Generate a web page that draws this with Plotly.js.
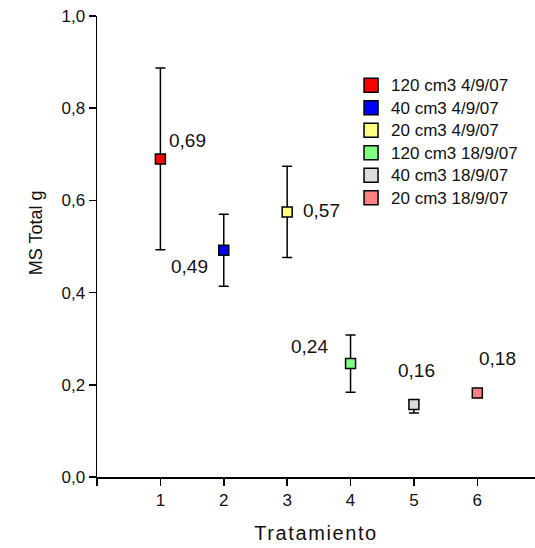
<!DOCTYPE html>
<html>
<head>
<meta charset="utf-8">
<script src="https://cdn.plot.ly/plotly-3.0.1.min.js"></script>
<style>
  html, body { margin: 0; padding: 0; background: #fff; }
  #chart { width: 535px; height: 548px; }
  .legend .legendtext { font-size: 17px !important; }
  .legend .scrollbox { clip-path: none !important; }
  .xtitle { letter-spacing: 1.6px; }
</style>
</head>
<body>
<div id="chart"></div>
<script>
// ---- data ----
var treatments = [1, 2, 3, 4, 5, 6];
var seriesNames = ["120 cm3 4/9/07", "40 cm3 4/9/07", "20 cm3 4/9/07",
                   "120 cm3 18/9/07", "40 cm3 18/9/07", "20 cm3 18/9/07"];
var meanValues = [0.69, 0.492, 0.575, 0.246, 0.157, 0.182];
var errorPlus = [0.197, 0.078, 0.099, 0.062, 0.008, 0.0];
var errorMinus = [0.197, 0.078, 0.099, 0.062, 0.018, 0.0];
var valueLabels = ["0,69", "0,49", "0,57", "0,24", "0,16", "0,18"];
var seriesColors = ["#ff0000", "#0000ff", "#ffff80", "#80ff80", "#dcdcdc", "#ff8080"];
var xTickVals = [0, 1, 2, 3, 4, 5, 6];
var xTickText = ["", "1", "2", "3", "4", "5", "6"];
var yTickVals = [0, 0.2, 0.4, 0.6, 0.8, 1.0];
var xTitle = "Tratamiento";
var yTitle = "MS Total g";
// label offsets (px) relative to each point
var labelDX = [27, -34, 34, -41, 3, 20];
var labelDY = [-18, 16, -1, -17, -34, -35];

var FONT = "Liberation Sans, Arial, sans-serif";
var traces = [];
for (var i = 0; i < treatments.length; i++) {
  traces.push({
    type: "scatter", mode: "markers",
    x: [treatments[i]], y: [meanValues[i]],
    error_y: { type: "data", symmetric: false,
               array: [errorPlus[i]], arrayminus: [errorMinus[i]],
               visible: errorMinus[i] > 0,
               color: "#000", thickness: 1.5, width: 5 },
    marker: { symbol: "square", size: 10, color: seriesColors[i],
              line: { color: "#000", width: 1.5 } },
    showlegend: false, hoverinfo: "skip", cliponaxis: false
  });
}
// legend entries
for (var j = 0; j < seriesNames.length; j++) {
  traces.push({
    type: "scatter", mode: "markers", x: [null], y: [null],
    name: seriesNames[j],
    marker: { symbol: "square", size: 14, color: seriesColors[j],
              line: { color: "#000", width: 1.5 } },
    showlegend: true, hoverinfo: "skip"
  });
}

var annotations = [];
for (var k = 0; k < treatments.length; k++) {
  annotations.push({
    x: treatments[k], y: meanValues[k], xref: "x", yref: "y",
    text: valueLabels[k], showarrow: false,
    xshift: labelDX[k], yshift: -labelDY[k],
    font: { family: FONT, size: 19, color: "#111" }
  });
}
annotations.push({
  x: -0.139, y: 0.529, xref: "paper", yref: "paper",
  text: yTitle, textangle: -90, showarrow: false,
  xanchor: "center", yanchor: "middle",
  font: { family: FONT, size: 18, color: "#111" }
});

var layout = {
  width: 535, height: 548,
  margin: { l: 97, r: 0, t: 16, b: 71 },
  paper_bgcolor: "#fff", plot_bgcolor: "#fff",
  separators: ",.",
  showlegend: true,
  legend: {
    x: 0.58, y: 0.885, xanchor: "left", yanchor: "top",
    bgcolor: "rgba(0,0,0,0)", borderwidth: 0,
    font: { family: FONT, size: 15, color: "#111" },
    itemclick: false, itemdoubleclick: false
  },
  xaxis: {
    range: [0, 6.91], showgrid: false, zeroline: false,
    showline: true, linecolor: "#000", linewidth: 1.5,
    ticks: "outside", ticklen: 7, tickwidth: 1.5, tickcolor: "#000",
    tickmode: "array", tickvals: xTickVals, ticktext: xTickText,
    tickfont: { family: FONT, size: 17, color: "#111" },
    title: { text: xTitle, font: { family: FONT, size: 20, color: "#111" }, standoff: 17 },
    fixedrange: true
  },
  yaxis: {
    range: [0, 1.0], showgrid: false, zeroline: false,
    showline: true, linecolor: "#000", linewidth: 1.5,
    ticks: "outside", ticklen: 7, tickwidth: 1.5, tickcolor: "#000",
    tickmode: "array", tickvals: yTickVals, tickformat: ".1f",
    tickfont: { family: FONT, size: 17, color: "#111" },
    fixedrange: true
  },
  annotations: annotations
};

Plotly.newPlot("chart", traces, layout, { displayModeBar: false, staticPlot: true });
</script>
</body>
</html>
